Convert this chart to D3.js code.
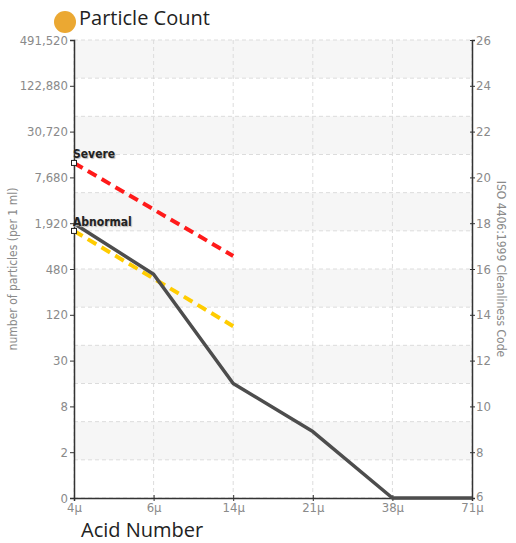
<!DOCTYPE html>
<html>
<head>
<meta charset="utf-8">
<script src="https://d3js.org/d3.v7.min.js"></script>
<style>
  body { margin: 0; background: #fff; }
  svg { display: block; }
  .tick text { fill: #8a8a8a; font-family: "Liberation Sans Narrow", "DejaVu Sans Condensed", sans-serif; font-size: 13px; }
  .axis path, .axis line { stroke: #333; }
</style>
</head>
<body>
<svg width="516" height="543"></svg>
<script>
// particle sizes (x categories)
const sizes = ["4\u03bc", "6\u03bc", "14\u03bc", "21\u03bc", "38\u03bc", "71\u03bc"];
// measured particle counts per 1 ml
const counts = [1900, 410, 15, 3.5, 0, 0];
// alarm limits, defined for the first three sizes
const severe = [11900, 2910, 712];
const abnormal = [1520, 360, 85];
// ISO codes on the right axis and matching count labels on the left
const isoCodes = [6, 8, 10, 12, 14, 16, 18, 20, 22, 24, 26];
const countLabels = ["0", "2", "8", "30", "120", "480", "1,920", "7,680", "30,720", "122,880", "491,520"];

const svg = d3.select("svg");
const m = {left: 74, right: 472, top: 40, bottom: 498};

const x = d3.scalePoint().domain(sizes).range([m.left, m.right]);
const yCode = d3.scaleLinear().domain([6, 26]).range([m.bottom, m.top]);
const minCount = 491520 / Math.pow(2, 20);
const yCount = d3.scaleLog().base(2).domain([minCount, 491520]).range([m.bottom, m.top]).clamp(true);
const yv = v => yCount(Math.max(v, minCount));

// alternating bands and dashed grid
const bands = d3.range(12);
const bandH = (m.bottom - m.top) / 12;
svg.append("g").selectAll("rect").data(bands).join("rect")
  .attr("x", m.left).attr("width", m.right - m.left)
  .attr("y", d => m.top + d * bandH).attr("height", bandH)
  .attr("fill", d => d % 2 === 0 ? "#f6f6f6" : "#fff");
svg.append("g").selectAll("line").data(d3.range(13)).join("line")
  .attr("x1", m.left).attr("x2", m.right)
  .attr("y1", d => m.top + d * bandH).attr("y2", d => m.top + d * bandH)
  .attr("stroke", "#dcdcdc").attr("stroke-dasharray", "4,3");
svg.append("g").selectAll("line").data(sizes).join("line")
  .attr("x1", d => x(d)).attr("x2", d => x(d))
  .attr("y1", m.top).attr("y2", m.bottom)
  .attr("stroke", "#dcdcdc").attr("stroke-dasharray", "4,3");

// axes
const left = svg.append("g").attr("class", "axis").attr("transform", `translate(${m.left},0)`)
  .call(d3.axisLeft(yCode).tickValues(isoCodes).tickFormat((d, i) => countLabels[i]).tickSize(4).tickPadding(2));
left.select(".domain").attr("stroke", "#222").attr("stroke-width", 1.5);

const right = svg.append("g").attr("class", "axis").attr("transform", `translate(${m.right},0)`)
  .call(d3.axisRight(yCode).tickValues(isoCodes).tickSize(3).tickPadding(1));
right.select(".domain").attr("stroke", "#555").attr("stroke-width", 1.5);
right.selectAll(".tick line").attr("x1", -2);
right.selectAll(".tick text").filter(d => d === 6).attr("dy", "0.2em");

const bottom = svg.append("g").attr("class", "axis").attr("transform", `translate(0,${m.bottom})`)
  .call(d3.axisBottom(x).tickSize(3).tickPadding(1));
bottom.select(".domain").attr("stroke", "#333").attr("stroke-width", 1.5);
bottom.selectAll(".tick line").attr("y1", -3);
bottom.selectAll(".tick text").attr("dy", "0.8em").attr("fill", "#9a9a9a");

// axis titles
const narrow = "'Liberation Sans Narrow', 'DejaVu Sans Condensed', sans-serif";
svg.append("text")
  .attr("transform", `translate(17,${(m.top + m.bottom) / 2}) rotate(-90)`)
  .attr("text-anchor", "middle").attr("fill", "#8a8a8a")
  .style("font-family", narrow).style("font-size", "12px")
  .text("number of particles (per 1 ml)");
svg.append("text")
  .attr("transform", `translate(497,${(m.top + m.bottom) / 2}) rotate(90)`)
  .attr("text-anchor", "middle").attr("fill", "#8a8a8a")
  .style("font-family", narrow).style("font-size", "12px")
  .text("ISO 4406:1999 Cleanliness Code");

// limit lines
const line = d3.line().x((d, i) => x(sizes[i])).y(d => yv(d));
svg.append("path").datum(severe).attr("d", line)
  .attr("fill", "none").attr("stroke", "#ff1a1a").attr("stroke-width", 4).attr("stroke-dasharray", "10,6");
svg.append("path").datum(abnormal).attr("d", line)
  .attr("fill", "none").attr("stroke", "#ffcc00").attr("stroke-width", 4).attr("stroke-dasharray", "10,6");

// measured counts
svg.append("path").datum(counts).attr("d", line)
  .attr("fill", "none").attr("stroke", "#4d4d4d").attr("stroke-width", 3.5).attr("stroke-linejoin", "round");

// limit markers and labels
[["Severe", severe], ["Abnormal", abnormal]].forEach(([name, vals]) => {
  const px = x(sizes[0]), py = yv(vals[0]);
  svg.append("rect").attr("x", px - 2.5).attr("y", py - 2.5).attr("width", 5).attr("height", 5)
    .attr("fill", "#fff").attr("stroke", "#222").attr("stroke-width", 1);
  svg.append("text").attr("x", px - 1).attr("y", py - 5)
    .attr("fill", "#222").style("font-family", narrow)
    .style("font-size", "12px").style("font-weight", "bold")
    .style("text-shadow", "1px 1px 1px #bbb")
    .text(name);
});

// titles
svg.append("circle").attr("cx", 65).attr("cy", 22).attr("r", 11).attr("fill", "#eba832");
svg.append("text").attr("x", 79).attr("y", 25)
  .style("font-family", "'Open Sans', sans-serif").style("font-size", "20px").attr("fill", "#222")
  .text("Particle Count");
svg.append("text").attr("x", 81).attr("y", 537)
  .style("font-family", "'Open Sans', sans-serif").style("font-size", "20px").attr("fill", "#222")
  .text("Acid Number");
</script>
</body>
</html>
